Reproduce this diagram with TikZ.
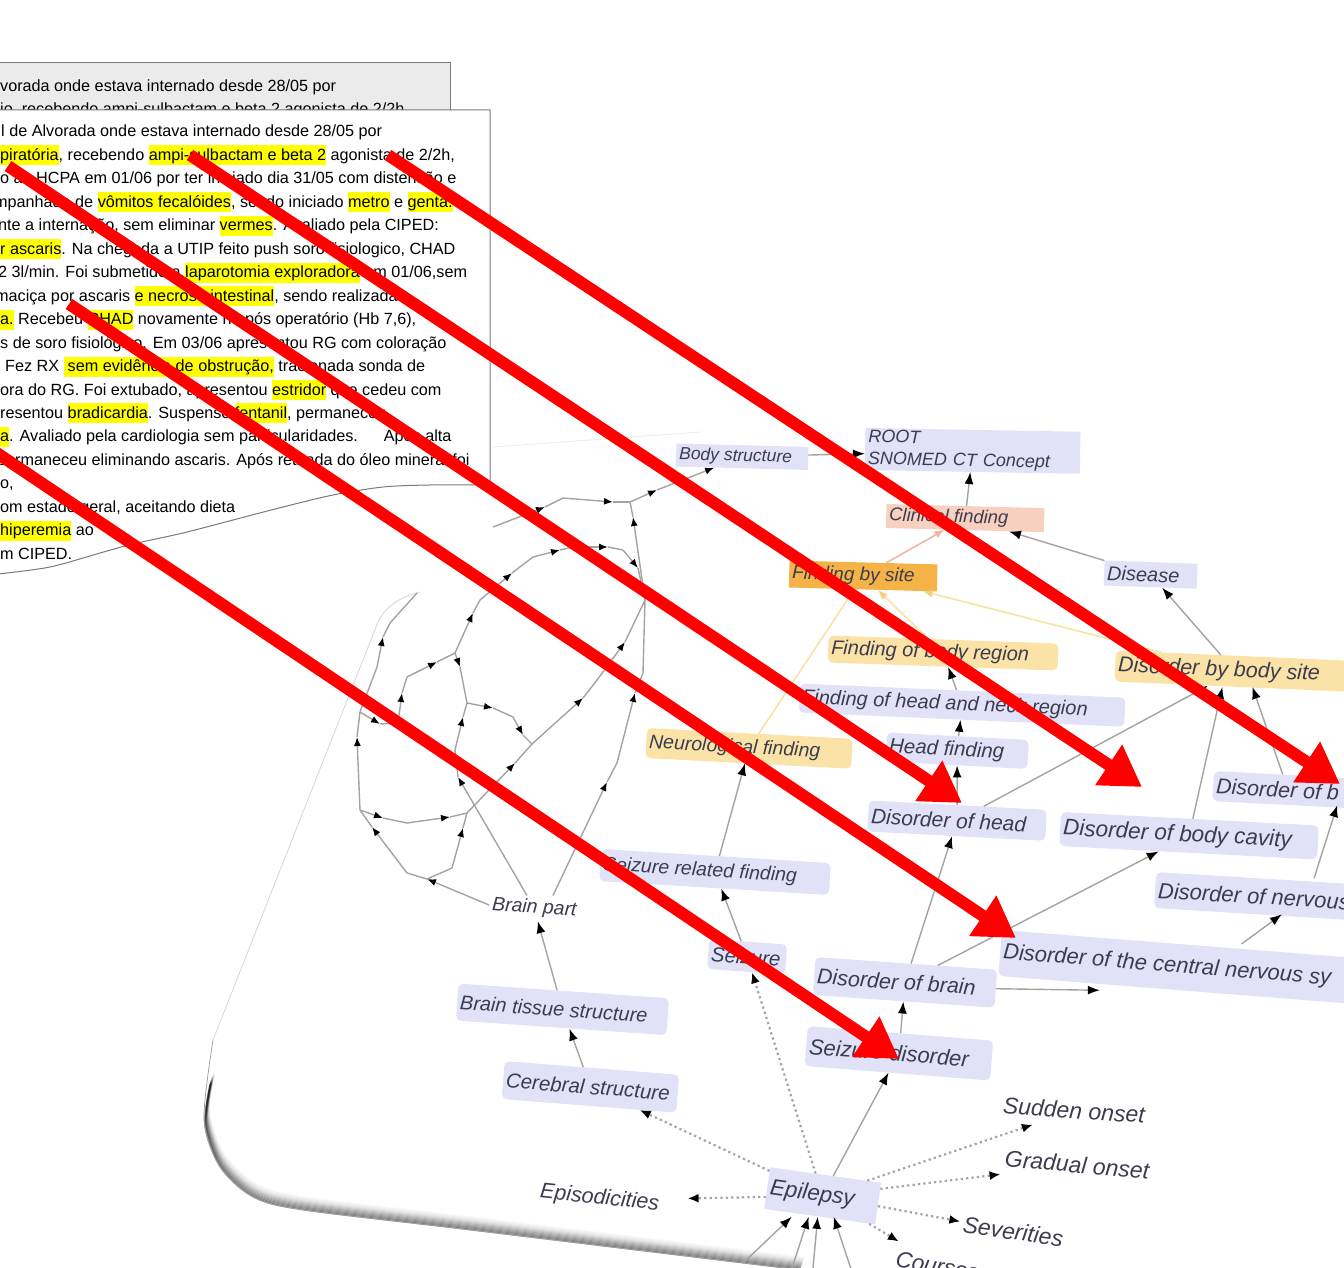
\documentclass[tikz,border=0pt]{standalone}
\usepackage{fontspec}
\setmainfont{Liberation Sans}
\newfontfamily\gfont{Liberation Sans}[ItalicFont={Liberation Sans Italic}]
\usetikzlibrary{arrows.meta}
\definecolor{lav}{HTML}{E1E1F8}
\definecolor{salm}{HTML}{F8D0BF}
\definecolor{orng}{HTML}{F5B347}
\definecolor{lor}{HTML}{FBE3A8}
\definecolor{gtext}{HTML}{3C3C50}
\definecolor{edgec}{HTML}{A3A3A3}
\definecolor{ylc}{HTML}{F8E2A6}
\definecolor{ylt}{HTML}{F1D27E}
\definecolor{salc}{HTML}{F2B7A2}
\definecolor{hly}{HTML}{FFFF00}
\definecolor{redc}{HTML}{FF0000}
\definecolor{papg}{HTML}{EBEBEB}
\definecolor{papb}{HTML}{7A7A7A}
\newcommand\hlt[1]{{\setlength{\fboxsep}{0pt}\colorbox{hly}{\rule[-5pt]{0pt}{20pt}#1}}}
\newcommand\bx[2]{\makebox[#1][l]{#2}}
\begin{document}
\begin{tikzpicture}[x=1pt,y=-1pt,
  ptext/.style={font=\fontsize{16.2}{20}\selectfont, inner sep=0pt, anchor=base west, text=black},
  gn/.style={font=\gfont\itshape\fontsize{#1}{#1}\selectfont, text=gtext, inner xsep=3pt, inner ysep=0pt, anchor=west},
  lv/.style={fill=lav, rounded corners=5pt},
  sq/.style={fill=lav},
  lo/.style={fill=lor, rounded corners=5pt},
  gedge/.style={draw=edgec, line width=1.4pt},
  nt/.style={gedge, -{Latex[length=9pt,width=7pt,color=black]}},
  ne/.style={gedge},
  gt/.style={gedge, -{Latex[length=12pt,width=9pt,color=black]}},
  dt/.style={draw=edgec, line width=2.2pt, dash pattern=on 2.2pt off 3.2pt, -{Latex[length=11pt,width=9pt,color=black]}},
  yl/.style={draw=ylc, line width=1.6pt, -{Latex[length=10pt,width=8pt,color=ylt]}},
  sl/.style={draw=salc, line width=1.6pt, -{Latex[length=10pt,width=8pt,color=salc]}},
  redarrow/.style={draw=redc, line width=12pt, -{Triangle[length=40pt,width=46pt,color=redc]}}
]
\useasboundingbox (0,0) rectangle (1344,1268);
\clip (0,0) rectangle (1344,1268);
\fill[white] (0,0) rectangle (1344,1268);

% ---------- frame of the tilted screenshot ----------
\draw[draw=black!8, line width=0.8pt] (493,447) -- (700,432);
\draw[draw=black!16, line width=0.8pt] (420,592) .. controls (400,597) and (386,606) .. (378,622) -- (213,1040);
\foreach \s/\o in {0.5/0.30,1.5/0.28,2.5/0.26,3.5/0.23,4.5/0.2,5.5/0.17,6.5/0.14,7.5/0.11,8.5/0.08,9.5/0.06,10.5/0.04,11.5/0.03,12.5/0.02}{
  \draw[black, opacity=\o, line width=1.8pt, xshift=0.35*\s pt, yshift=\s pt]
    plot[smooth] coordinates {(210,1085) (205,1125) (220,1167) (253,1197) (303,1210) (470,1230) (800,1270)};
}
\draw[draw=black!40, line width=0.7pt] plot[smooth] coordinates {(213,1040) (204,1120) (220,1167) (253,1197) (303,1210) (470,1230) (800,1270)};

% ---------- graph nodes ----------
\node[gn=18, sq, rotate=-1, minimum height=42pt, text width=209pt, align=left, font=\gfont\itshape\fontsize{18}{22}\selectfont] (root) at (865,449) {ROOT\\SNOMED CT Concept};
\node[gn=17.5, sq, rotate=-1.5, minimum height=23pt] (body) at (676,455) {\bx{126pt}{Body structure}};
\node[gn=18.5, fill=salm, rotate=-1.5, minimum height=24pt] (clin) at (886,516) {\bx{152pt}{Clinical finding}};
\node[gn=19, fill=orng, rotate=-1.5, minimum height=27pt] (fbs) at (789,574) {\bx{142pt}{Finding by site}};
\node[gn=20, sq, rotate=-2, minimum height=25pt] (disease) at (1104,573) {\bx{87pt}{Disease}};
\node[gn=20, lo, rotate=-2, minimum height=27pt] (fbr) at (828,649) {\bx{224pt}{Finding of body region}};
\node[gn=21.5, lo, rotate=-2.5, minimum height=31pt] (dbs) at (1115,666) {\bx{234pt}{Disorder by body site}};
\node[gn=20, lv, rotate=-2.5, minimum height=29pt] (fhn) at (799,698) {\bx{320pt}{Finding of head and neck region}};
\node[gn=19.5, lo, rotate=-3, minimum height=30pt] (neuro) at (646,743) {\bx{200pt}{Neurological finding}};
\node[gn=20.5, lv, rotate=-3, minimum height=29pt] (head) at (886,747) {\bx{136pt}{Head finding}};
\node[gn=21.5, lv, rotate=-3, minimum height=30pt] (dob) at (1213,786) {\bx{144pt}{Disorder of b}};
\node[gn=21, lv, rotate=-3, minimum height=31pt] (dhead) at (868,816) {\bx{172pt}{Disorder of head}};
\node[gn=22.5, lv, rotate=-3, minimum height=34pt] (dbc) at (1060,829) {\bx{252pt}{Disorder of body cavity}};
\node[gn=19.5, lv, rotate=-3.5, minimum height=32pt] (srf) at (600,865) {\bx{224pt}{Seizure related finding}};
\node[gn=22, lv, rotate=-3.5, minimum height=36pt] (dnerv) at (1155,890) {\bx{194pt}{Disorder of nervous}};
\node[gn=19.5, fill=white, rotate=-4, minimum height=25pt] (bpart) at (489,905) {\bx{84pt}{Brain part}};
\node[gn=22, lv, rotate=-4.5, minimum height=46pt] (dcns) at (1000,953) {\bx{354pt}{Disorder of the central nervous sy}};
\node[gn=20.5, lv, rotate=-4, minimum height=30pt] (seizure) at (708,954) {\bx{72pt}{Seizure}};
\node[gn=21.5, lv, rotate=-4, minimum height=38pt] (dbrain) at (814,976) {\bx{176pt}{Disorder of brain}};
\node[gn=20, lv, rotate=-4, minimum height=37pt] (bts) at (457,1002) {\bx{205pt}{Brain tissue structure}};
\node[gn=22, lv, rotate=-4.5, minimum height=40pt] (sdis) at (806,1046) {\bx{180pt}{Seizure disorder}};
\node[gn=20.5, lv, rotate=-4.5, minimum height=38pt] (cereb) at (503,1080) {\bx{169pt}{Cerebral structure}};
\node[gn=23, rotate=-4, minimum height=34pt] (sudden) at (1000,1105) {\bx{144pt}{Sudden onset}};
\node[gn=23, rotate=-5, minimum height=36pt] (gradual) at (1002,1158) {\bx{149pt}{Gradual onset}};
\node[gn=21.5, rotate=-6, minimum height=34pt] (episod) at (537,1192) {\bx{144pt}{Episodicities}};
\node[gn=22.5, sq, rotate=-8, minimum height=42pt] (epil) at (767,1188) {\bx{106pt}{Epilepsy}};
\node[gn=23, rotate=-8, minimum height=36pt] (sever) at (960,1224) {\bx{104pt}{Severities}};
\node[gn=22.5, rotate=-10, minimum height=34pt] (courses) at (893,1258) {\bx{89pt}{Courses}};

% ---------- graph edges ----------
\draw[gt] (body) -- (root);
\draw[gt] (clin) -- (root);
\draw[gt] (disease) -- (clin);
\draw[sl] (fbs) -- (clin);
\draw[yl] (neuro) -- (fbs);
\draw[yl] (fbr) -- (fbs);
\draw[yl] (dbs) -- (fbs);
\draw[gt] (dbs) -- (disease);
\draw[gt] (fhn) -- (fbr);
\draw[gt] (head) -- (fhn);
\draw[gt] (dhead) -- (head);
\draw[gt] (dhead) -- (dbs);
\draw[gt] (dbc) -- ([xshift=-12pt]dbs.south);
\draw[gt] (dob) -- ([xshift=18pt]dbs.south);
\draw[gt] ([xshift=58pt]dnerv.north) -- ([xshift=50pt]dob.south);
\draw[gt] ([xshift=60pt]dcns.north) -- ([xshift=28pt]dnerv.south);
\draw[gt] (dbrain) -- (dhead);
\draw[gt] (dbrain.east) -- ([xshift=-78pt]dcns.south);
\draw[gt] (dbrain) -- (dbc);
\draw[gt] (sdis) -- (dbrain);
\draw[gt] (epil) -- (sdis);
\draw[gt] (seizure) -- (srf);
\draw[gt] (srf) -- (neuro);
\draw[gt] (cereb) -- (bts);
\draw[gt] (bts) -- (bpart);
\draw[dt] (epil) -- (seizure);
\draw[dt] (epil) -- (cereb);
\draw[dt] (epil) -- (episod);
\draw[dt] (epil) -- (sudden);
\draw[dt] (epil) -- (gradual);
\draw[dt] (epil) -- (sever);
\draw[dt] (epil) -- (courses);
\coordinate (eb1) at (743,1263);
\coordinate (eb2) at (792,1268);
\coordinate (eb3) at (813,1268);
\coordinate (eb4) at (852,1272);
\draw[gt] (eb1) -- ([xshift=-28pt]epil.south);
\draw[gt] (eb2) -- ([xshift=-11pt]epil.south);
\draw[gt] (eb3) -- ([xshift=-2pt]epil.south);
\draw[gt] (eb4) -- ([xshift=14pt]epil.south);

% ---------- junction network ----------
\coordinate (ja) at (493,527);  \coordinate (jb) at (545,507);
\coordinate (jc) at (563,498);  \coordinate (jd) at (613,502);
\coordinate (p1) at (630,502);  \coordinate (je) at (657,490);
\coordinate (q1) at (480,600);  \coordinate (k1) at (512,573);
\coordinate (k2) at (533,557);  \coordinate (k3) at (560,550);
\coordinate (k4) at (573,547);  \coordinate (k5) at (608,547);
\coordinate (k6) at (623,550);  \coordinate (k7) at (638,568);
\coordinate (p4) at (645,600);  \coordinate (m1) at (633,517);
\coordinate (p7) at (455,653);  \coordinate (m2) at (473,613);
\coordinate (q5) at (407,677);  \coordinate (m3) at (437,662);
\coordinate (q6) at (398,723);  \coordinate (m4) at (402,693);
\coordinate (q10) at (360,712); \coordinate (m5) at (380,724);
\coordinate (p10) at (360,810); \coordinate (m6) at (357,737);
\coordinate (q11) at (377,667); \coordinate (m7) at (383,637);
\coordinate (q12) at (390,623); \coordinate (q13) at (417,593);
\coordinate (m8) at (460,667);  \coordinate (p9) at (467,703);
\coordinate (m9) at (493,708);  \coordinate (q7) at (513,717);
\coordinate (m10) at (523,735); \coordinate (q8) at (532,744);
\coordinate (p11) at (467,813); \coordinate (m11) at (515,763);
\coordinate (m12) at (583,698); \coordinate (q9) at (597,680);
\coordinate (m13) at (625,642); \coordinate (m14) at (607,782);
\coordinate (q14) at (617,763); \coordinate (m15) at (635,693);
\coordinate (q15) at (643,673); \coordinate (m16) at (458,777);
\coordinate (q16) at (455,750); \coordinate (m17) at (463,717);
\coordinate (m18) at (383,818); \coordinate (q17) at (407,823);
\coordinate (m19) at (450,817); \coordinate (qbl) at (427,879);
\coordinate (q18) at (407,873); \coordinate (m20) at (372,827);
\coordinate (q19) at (452,868); \coordinate (m21) at (463,828);

\draw[nt] (ja) -- (jb);  \draw[ne] (jb) -- (jc);  \draw[nt] (jc) -- (jd);
\draw[ne] (jd) -- (p1);  \draw[nt] (p1) -- (je);  \draw[nt] (je) -- (body);
\draw[nt] (q1) -- (k1);  \draw[ne] (k1) -- (k2);  \draw[nt] (k2) -- (k3);
\draw[ne] (k3) -- (k4);  \draw[nt] (k4) -- (k5);  \draw[ne] (k5) -- (k6);
\draw[nt] (k6) -- (k7);  \draw[ne] (k7) -- (p4);
\draw[nt] (p4) -- (m1);  \draw[ne] (m1) -- (p1);
\draw[nt] (p7) -- (m2);  \draw[ne] (m2) -- (q1);
\draw[nt] (q5) -- (m3);  \draw[ne] (m3) -- (p7);
\draw[nt] (q6) -- (m4);  \draw[ne] (m4) -- (q5);
\draw[nt] (q10) -- (m5); \draw[ne] (m5) -- (q6);
\draw[nt] (p10) -- (m6); \draw[ne] (m6) -- (q10) -- (q11);
\draw[nt] (q11) -- (m7); \draw[ne] (m7) -- (q12) -- (q13);
\draw[nt] (p7) -- (m8);  \draw[ne] (m8) -- (p9);
\draw[nt] (p9) -- (m9);  \draw[ne] (m9) -- (q7);
\draw[nt] (q7) -- (m10); \draw[ne] (m10) -- (q8);
\draw[nt] (p11) -- (m11); \draw[ne] (m11) -- (q8);
\draw[nt] (q8) -- (m12); \draw[ne] (m12) -- (q9);
\draw[nt] (q9) -- (m13); \draw[ne] (m13) -- (p4);
\draw[nt] ([xshift=18pt]bpart.north) -- (m14); \draw[ne] (m14) -- (q14);
\draw[nt] (q14) -- (m15); \draw[ne] (m15) -- (q15) -- (p4);
\draw[nt] ([xshift=-8pt]bpart.north) -- (m16); \draw[ne] (m16) -- (q16);
\draw[nt] (q16) -- (m17); \draw[ne] (m17) -- (p9);
\draw[nt] (p10) -- (m18); \draw[ne] (m18) -- (q17);
\draw[nt] (q17) -- (m19); \draw[ne] (m19) -- (p11);
\draw[nt] (bpart.west) -- (qbl);
\draw[ne] (qbl) -- (q18); \draw[nt] (q18) -- (m20); \draw[ne] (m20) -- (p10);
\draw[ne] (qbl) -- (q19); \draw[nt] (q19) -- (m21); \draw[ne] (m21) -- (p11);

% ---------- back paper ----------
\draw[fill=papg, draw=papb, line width=1pt] (-2,63) rectangle (450,130);
\node[ptext] (b1) at (0,92) {vorada onde estava internado desde 28/05 por};
\node[ptext] (b2) at (0,115) {io, recebendo ampi-sulbactam e beta 2 agonista de 2/2h};

% ---------- front paper ----------
\path[fill=white] (-2,110) -- (490,110) -- plot[smooth] coordinates {(490,485) (430,485) (383,487) (333,495) (283,507) (233,520) (183,533) (133,544) (100,553) (50,567) (-2,574)} -- cycle;
\begin{scope}
\clip (-2,110) -- (490,110) -- plot[smooth] coordinates {(490,485) (430,485) (383,487) (333,495) (283,507) (233,520) (183,533) (133,544) (100,553) (50,567) (-2,574)} -- cycle;
\node[ptext] (t1) at (1,137) {l de Alvorada onde estava internado desde 28/05 por};
\node[ptext] (t2) at (0,160.5) {\hlt{piratória}, recebendo \hlt{ampi-sulbactam e beta 2} agonista de 2/2h,};
\node[ptext] (t3) at (0,184) {o ao HCPA em 01/06 por ter iniciado dia 31/05 com distensão e};
\node[ptext] (t4) at (-6,207.3) {mpanhada de \hlt{vômitos fecalóides}, sendo iniciado \hlt{metro} e \hlt{genta.}};
\node[ptext] (t5) at (-2,230.8) {nte a internação, sem eliminar \hlt{vermes}. Avaliado pela CIPED:};
\node[ptext] (t6) at (0,254.2) {\hlt{r ascaris}. Na chegada a UTIP feito push soro fisiologico, CHAD};
\node[ptext] (t7) at (-2,277.7) {2 3l/min. Foi submetido a \hlt{laparotomia exploradora} em 01/06,sem};
\node[ptext] (t8) at (-5,301.1) {maciça por ascaris \hlt{e necrose intestinal}, sendo realizada};
\node[ptext] (t9) at (0,324.6) {\hlt{a.} Recebeu \hlt{CHAD} novamente no pós operatório (Hb 7,6),};
\node[ptext] (t10) at (0,348) {s de soro fisiológico. Em 03/06 apresentou RG com coloração};
\node[ptext] (t11) at (5,371.5) {Fez RX \hlt{\hspace{4pt}sem evidência de obstrução,} tracionada sonda de};
\node[ptext] (t12) at (0,395) {ora do RG. Foi extubado, apresentou \hlt{estridor} que cedeu com};
\node[ptext] (t13) at (0,418.4) {resentou \hlt{bradicardia}. Suspenso \hlt{fentanil}, permaneceu};
\node[ptext] (t14) at (0,441.9) {\hlt{a}. Avaliado pela cardiologia sem particularidades.\hspace{26pt}Após alta};
\node[ptext] (t15) at (-3,465.3) {permaneceu eliminando ascaris. Após retirada do óleo mineral foi};
\node[ptext] (t16) at (0,488.8) {o,};
\node[ptext] (t17) at (0,512.2) {om estado geral, aceitando dieta};
\node[ptext] (t18) at (0,535.7) {\hlt{hiperemia} ao};
\node[ptext] (t19) at (0,559.1) {m CIPED.};
\end{scope}
\draw[draw=papb, line width=1pt] (-2,110) -- (490,110) -- plot[smooth] coordinates {(490,485) (430,485) (383,487) (333,495) (283,507) (233,520) (183,533) (133,544) (100,553) (50,567) (-2,574)};

% ---------- red arrows ----------
\coordinate (ra) at (8,166);    \coordinate (ta) at (962,803);
\coordinate (rb) at (190,155);  \coordinate (tb) at (1142,787);
\coordinate (rc) at (388,155);  \coordinate (tc) at (1340,784);
\coordinate (rd) at (69,304);   \coordinate (td) at (1016,938);
\coordinate (re) at (-30,435);  \coordinate (te) at (899,1059);
\draw[redarrow] (ra) -- (ta);
\draw[redarrow] (rb) -- (tb);
\draw[redarrow] (rc) -- (tc);
\draw[redarrow] (rd) -- (td);
\draw[redarrow] (re) -- (te);
\end{tikzpicture}
\end{document}
